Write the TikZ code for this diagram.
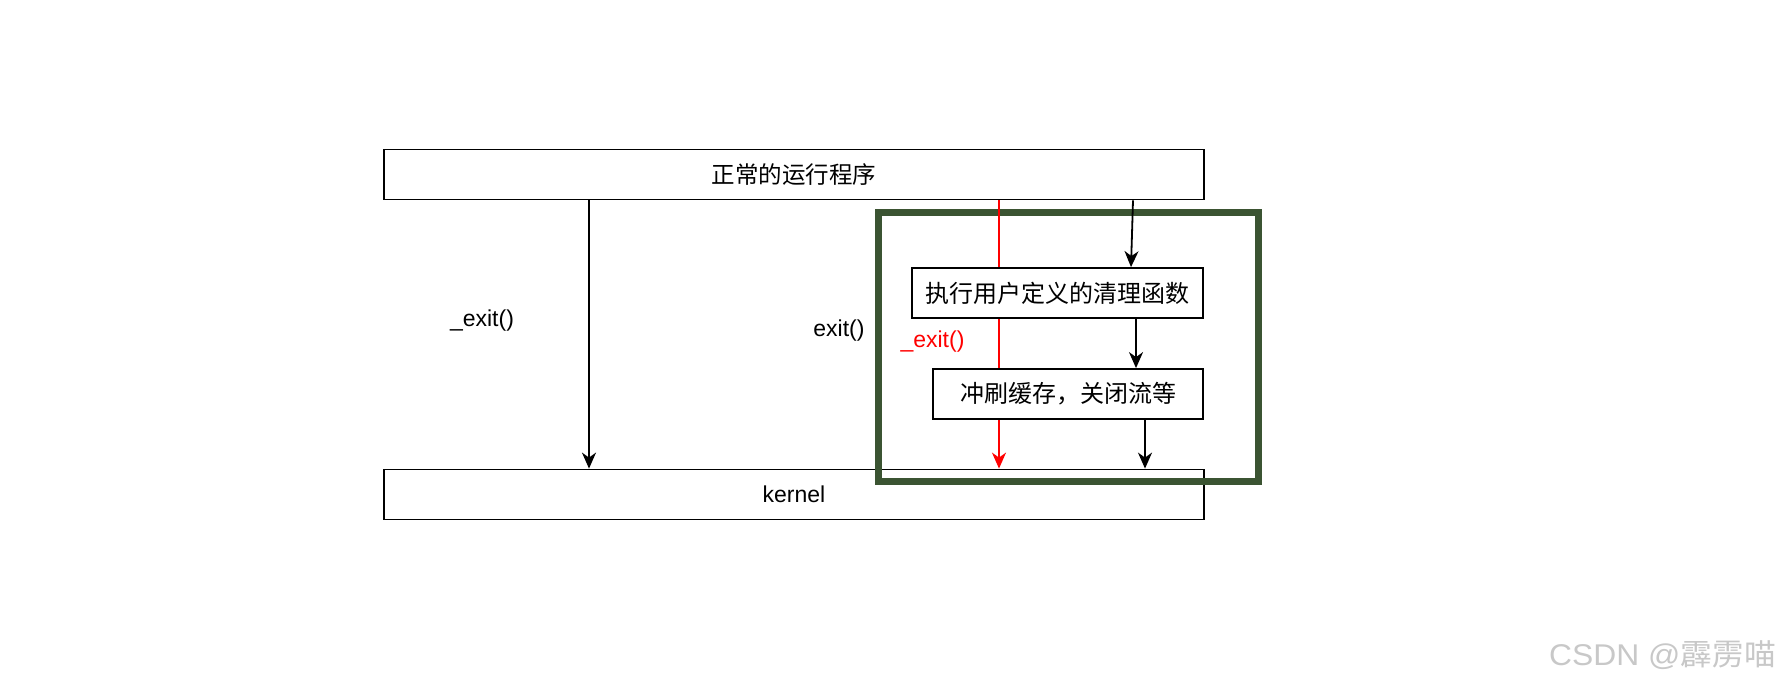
\documentclass[tikz,border=0pt]{standalone}
\usepackage{fontspec}
\setmainfont{Liberation Sans}
\newfontfamily\cjk{Noto Sans CJK SC}
\usetikzlibrary{arrows.meta}
\definecolor{frame}{HTML}{3B5432}
\definecolor{wm}{HTML}{C8C8C8}
\begin{document}
\begin{tikzpicture}[x=1pt,y=-1pt,
  box/.style={draw=black,line width=1.8pt,fill=white,inner sep=0pt,anchor=center},
  arr/.style={line width=1.8pt,-{Stealth[length=16pt,width=14pt,inset=5pt]}},
  lbl/.style={inner sep=0pt,font=\fontsize{23}{26}\selectfont}]
\useasboundingbox (0,0) rectangle (1782,686);
% coordinates for connector columns
\coordinate (cl) at (589,0);
\coordinate (cr) at (999,0);
\coordinate (c1a) at (1133,0);
\coordinate (c1b) at (1131,0);
\coordinate (c2) at (1136,0);
\coordinate (c3) at (1145,0);
% boxes (top, kernel)
\node[box,minimum width=820pt,minimum height=50pt] (top) at (794,174.5) {};
\node[box,minimum width=820pt,minimum height=50pt] (kernel) at (794,494.5) {};
\node[lbl] at (kernel.center) {kernel};
% green frame
\draw[frame,line width=7pt] (878,212.5) rectangle (1258,481);
% red line behind inner boxes
\draw[arr,red] (top.south -| cr) -- (kernel.north -| cr);
\draw[arr] (top.south -| cl) -- (kernel.north -| cl);
% inner boxes
\node[box,minimum width=291pt,minimum height=50pt] (clean) at (1057.5,293) {};
\node[box,minimum width=270pt,minimum height=50pt] (flush) at (1068,394) {};
\node[inner sep=0pt,font=\cjk\fontsize{23.5}{26}\selectfont] at (top.center) {正常的运行程序};
\node[inner sep=0pt,font=\cjk\fontsize{24}{26}\selectfont] at (clean.center) {执行用户定义的清理函数};
\node[inner sep=0pt,font=\cjk\fontsize{24}{26}\selectfont] at (flush.center) {冲刷缓存，关闭流等};
% black connectors
\draw[arr] (top.south -| c1a) -- (clean.north -| c1b);
\draw[arr] (clean.south -| c2) -- (flush.north -| c2);
\draw[arr] (flush.south -| c3) -- (kernel.north -| c3);
% labels
\node[lbl] (l1) at (482,321) {\_exit()};
\node[lbl] (l2) at (839,331) {exit()};
\node[lbl,text=red] (l3) at (932.5,342) {\_exit()};
% watermark
\node[inner sep=0pt,anchor=east,text=wm] (wmk) at (1776,655) {\scalebox{1.06}[1]{\fontsize{30}{32}\selectfont CSDN @{\cjk 霹雳喵}}};
\end{tikzpicture}
\end{document}
